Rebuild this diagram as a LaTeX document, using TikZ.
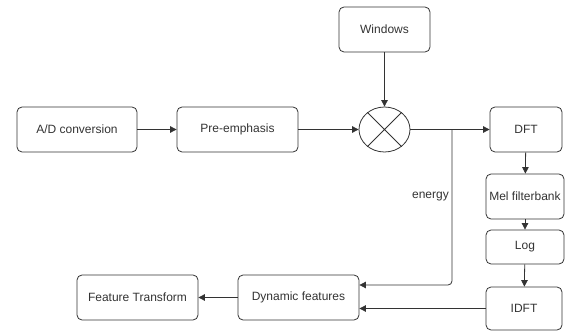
\documentclass[tikz,border=0pt]{standalone}
\usepackage{fontspec}
\setmainfont{Liberation Sans}
\usepackage{tikz}
\usetikzlibrary{shapes.geometric, arrows.meta, calc}
\definecolor{ink}{HTML}{333333}

\begin{document}
\begin{tikzpicture}[x=1pt, y=-1pt,
  box/.style={draw=ink, line width=0.8pt, rounded corners=5pt, align=center,
    text=ink, inner sep=0pt, minimum height=45pt,
    font=\fontsize{12}{14}\selectfont},
  arr/.style={draw=ink, line width=0.8pt, -{Triangle[length=6.5pt, width=6.5pt]}}]
  \useasboundingbox (0,0) rectangle (565,331);
  % upper row
  \node[box, minimum width=120pt] (ad)  at (77,129.5)    {A/D conversion};
  \node[box, minimum width=121pt] (pre) at (237.5,129.5) {Pre-emphasis};
  \node[box, minimum width=91pt]  (win) at (384.5,29.5)  {Windows};
  \node[draw=ink, line width=0.8pt, ellipse, minimum width=51pt,
        minimum height=45pt, inner sep=0pt] (mul) at (384.5,129.5) {};
  \draw[ink, line width=0.8pt] (mul.45) -- (mul.225) (mul.135) -- (mul.315);
  \node[box, minimum width=72pt]  (dft) at (526,129.5)   {DFT};
  % right column
  \node[box, minimum width=78pt]  (mel) at (525,196.5)   {Mel filterbank};
  \node[box, minimum width=78pt, minimum height=34pt] (log) at (525,247) {Log};
  \node[box, minimum width=76pt, minimum height=43pt] (idft) at (524,308.5) {IDFT};
  % lower row
  \node[box, minimum width=121pt] (dyn) at (298.5,297.5) {Dynamic features};
  \node[box, minimum width=121pt] (ft)  at (137.5,297.5) {Feature Transform};
  \coordinate (tap) at (452,129.5);
  \node[left, text=ink, inner sep=3pt, font=\fontsize{12}{14}\selectfont]
    (en) at (452,197) {energy};
  % connectors
  \draw[arr] (ad) -- (pre);
  \draw[arr] (pre) -- (mul);
  \draw[arr] (win) -- (mul);
  \draw[arr] (mul) -- (dft);
  \draw[arr] (dft) -- (mel);
  \draw[arr] (mel) -- (log);
  \draw[arr] (log) -- (idft);
  \draw[arr, rounded corners=4pt] (tap) |- ([yshift=12.5pt]dyn.east);
  \draw[arr] (idft.west) -- (idft.west -| dyn.east);
  \draw[arr] (dyn) -- (ft);
\end{tikzpicture}
\end{document}
